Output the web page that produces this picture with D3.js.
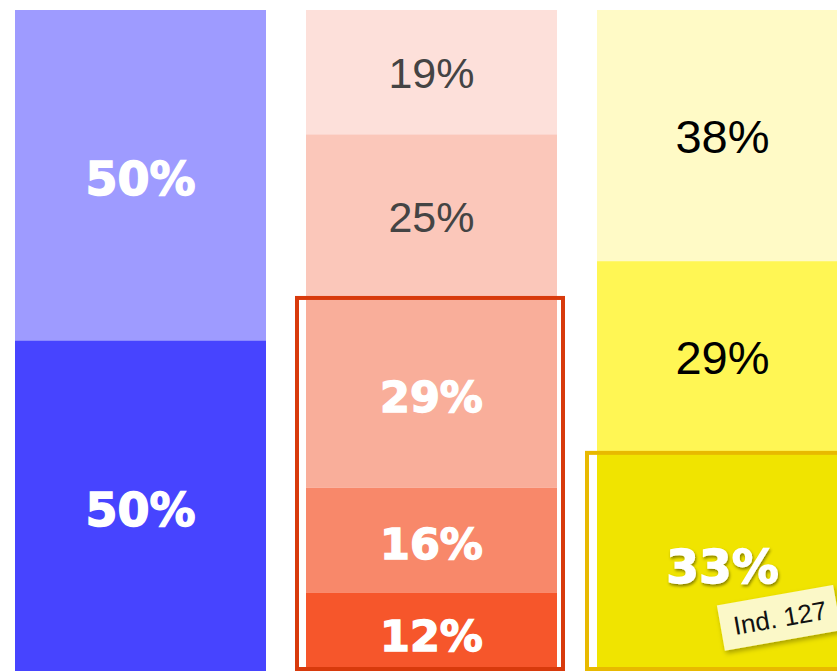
<!DOCTYPE html>
<html>
<head>
<meta charset="utf-8">
<script src="https://cdn.jsdelivr.net/npm/d3@7"></script>
<style>
  body { margin: 0; background: #fff; }
  svg { display: block; }
</style>
</head>
<body>
<div id="chart"></div>
<script>
/* three stacked share columns with highlight boxes */

const columns = ["A", "B", "C"];
const valuesA = [50, 50];
const valuesB = [19, 25, 29, 16, 12];
const valuesC = [38, 29, 33];
const colorsA = ["#9e9bff", "#4744ff"];
const colorsB = ["#fde0da", "#fbc7ba", "#f9ae9a", "#f8886a", "#f6562b"];
const colorsC = ["#fffac6", "#fff654", "#f0e400"];
const textA = ["#fff", "#fff"];
const textB = ["#444", "#444", "#fff", "#fff", "#fff"];
const textC = ["#000", "#000", "#fff"];
const boldA = [true, true];
const boldB = [false, false, true, true, true];
const boldC = [false, false, true];
const highlightFrom = [null, 2, 2];   // first segment inside outline box
const highlightColor = [null, "#d83a0c", "#e8b900"];
const noteText = "Ind. 127";

const width = 837, height = 671;
const yTop = 10, yBottom = 671;

const svg = d3.select("#chart")
  .append("svg")
  .attr("width", width)
  .attr("height", height);

const defs = svg.append("defs");
const sh = defs.append("filter").attr("id", "shadow")
  .attr("x", "-20%").attr("y", "-20%").attr("width", "140%").attr("height", "160%");
sh.append("feDropShadow").attr("dx", 1).attr("dy", 2).attr("stdDeviation", 1.5)
  .attr("flood-color", "#000").attr("flood-opacity", 0.45);
const sh2 = defs.append("filter").attr("id", "noteShadow")
  .attr("x", "-20%").attr("y", "-20%").attr("width", "140%").attr("height", "160%");
sh2.append("feDropShadow").attr("dx", 1).attr("dy", 3).attr("stdDeviation", 2.5)
  .attr("flood-color", "#000").attr("flood-opacity", 0.3);

const x = d3.scaleBand()
  .domain(columns)
  .range([15, 848])
  .paddingInner(40 / 291);

const data = [
  { key: "A", values: valuesA, colors: colorsA, text: textA, bold: boldA, size: 46 },
  { key: "B", values: valuesB, colors: colorsB, text: textB, bold: boldB, size: 43 },
  { key: "C", values: valuesC, colors: colorsC, text: textC, bold: boldC, size: 47 }
];

data.forEach((col, ci) => {
  const y = d3.scaleLinear()
    .domain([0, d3.sum(col.values)])
    .range([yTop, yBottom]);
  const stacked = col.values.map((v, i) => ({
    v, i,
    y0: d3.sum(col.values.slice(0, i)),
    y1: d3.sum(col.values.slice(0, i + 1))
  }));

  const g = svg.append("g");

  g.selectAll("rect")
    .data(stacked)
    .join("rect")
    .attr("x", x(col.key))
    .attr("width", x.bandwidth())
    .attr("y", d => y(d.y0))
    .attr("height", d => y(d.y1) - y(d.y0))
    .attr("fill", d => col.colors[d.i]);

  g.selectAll("text")
    .data(stacked)
    .join("text")
    .attr("x", x(col.key) + x.bandwidth() / 2)
    .attr("y", d => (y(d.y0) + y(d.y1)) / 2)
    .attr("dy", d => col.bold[d.i] ? "0.44em" : "0.36em")
    .attr("text-anchor", "middle")
    .attr("font-family", d => col.bold[d.i] ? "DejaVu Sans" : "Liberation Sans, Arial, sans-serif")
    .attr("font-weight", d => col.bold[d.i] ? "bold" : "normal")
    .attr("font-size", col.size)
    .attr("fill", d => col.text[d.i])
    .attr("stroke", d => col.bold[d.i] ? col.text[d.i] : null)
    .attr("stroke-width", d => col.bold[d.i] ? 1.4 : null)
    .attr("filter", d => (ci === 2 && col.bold[d.i]) ? "url(#shadow)" : null)
    .text(d => d.v + "%");

  if (highlightFrom[ci] !== null) {
    const s = stacked[highlightFrom[ci]];
    g.append("rect")
      .attr("x", x(col.key) - 9 - (ci === 2 ? 1 : 0))
      .attr("y", y(s.y0))
      .attr("width", x.bandwidth() + 15)
      .attr("height", 669 - y(s.y0))
      .attr("fill", "none")
      .attr("stroke", highlightColor[ci])
      .attr("stroke-width", 4);
  }
});

// sticky note on last column
const nx = x("C") + 181, ny = 618;
const note = svg.append("g")
  .attr("transform", `translate(${nx},${ny}) rotate(-10)`);
note.append("rect")
  .attr("x", -58).attr("y", -23)
  .attr("width", 118).attr("height", 46)
  .attr("fill", "#fbf8c8")
  .attr("filter", "url(#noteShadow)");
note.append("text")
  .attr("text-anchor", "middle")
  .attr("x", 2)
  .attr("dy", "0.36em")
  .attr("font-family", "Liberation Sans, Arial, sans-serif")
  .attr("font-size", 26)
  .attr("fill", "#111")
  .text(noteText);
</script>
</body>
</html>
